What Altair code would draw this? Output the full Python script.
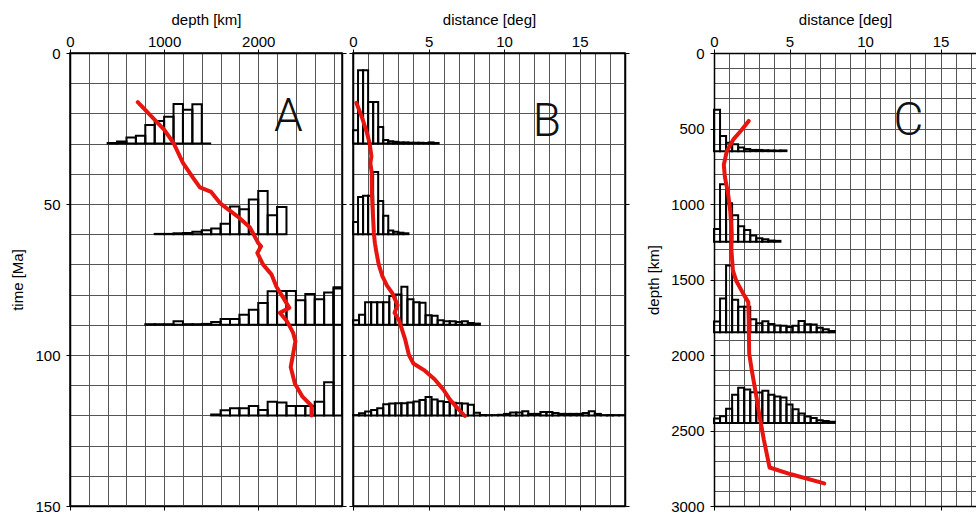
import altair as alt
import pandas as pd

# ---------------- Panel A : depth distribution [km] at four times [Ma]
a_base_time = [30, 60, 90, 120]
a_start_depth = [400, 900, 800, 1500]
a_bin_depth = 100
a_max_depth = 2890
a_counts_30 = [0.2, 0.7, 2.0, 2.6, 6.2, 7.5, 8.9, 13.1, 11.2, 13.0, 0.0]
a_counts_60 = [0.1, 0.1, 0.3, 0.4, 0.8, 1.3, 1.9, 3.5, 9.2, 8.3, 11.5, 14.3, 6.3, 9.0]
a_counts_90 = [0.2, 0.2, 0.2, 1.2, 0.2, 0.2, 0.3, 0.9, 1.9, 1.9, 3.3, 5.0, 7.2, 11.1,
               11.2, 11.2, 8.1, 10.2, 8.5, 10.7, 12.4]
a_counts_120 = [0.3, 1.7, 2.4, 2.4, 3.1, 1.8, 4.5, 4.3, 3.1, 3.1, 3.1, 4.5, 11.0, 42.0]
a_path_depth = [720, 1000, 1100, 1200, 1310, 1380, 1500, 1600, 1800, 1910, 2000, 2030, 1990,
                2050, 2140, 2195, 2265, 2330, 2230, 2305, 2370, 2395, 2370, 2345, 2390, 2470,
                2566, 2566]
a_path_time = [16.3, 25.4, 29.8, 36.4, 41.4, 44.5, 46.0, 49.9, 54.6, 57.7, 62.9, 64.0, 66.2,
               70.0, 73.3, 77.5, 81.0, 84.4, 86.0, 88.8, 92.6, 95.4, 99.8, 104.0, 109.5, 113.8,
               116.8, 120.0]

# ---------------- Panel B : distance distribution [deg] at four times [Ma]
b_base_time = [30, 60, 90, 120]
b_bin_deg = [1 / 3, 1 / 3, 0.4, 0.4]
b_counts_30 = [4.4, 24.3, 24.3, 13.8, 13.8, 5.5, 1.2, 0.8, 0.6, 0.4, 0.4, 0.3, 0.3, 0.3, 0.2,
               0.4, 0.2]
b_counts_60 = [4.0, 12.3, 12.7, 12.7, 20.6, 11.0, 6.1, 1.2, 0.8, 0.5, 0.3]
b_counts_90 = [1.5, 3.3, 7.5, 7.5, 7.5, 7.5, 9.5, 10.0, 12.6, 8.5, 7.5, 7.3, 3.2, 3.0, 1.5,
               1.2, 1.2, 0.9, 1.2, 0.6, 0.4]
b_counts_120 = [0.1, 0.7, 1.3, 1.8, 2.4, 3.7, 3.9, 4.0, 4.0, 4.3, 4.6, 5.1, 6.1, 5.3, 4.7,
                4.4, 4.2, 4.0, 3.9, 3.5, 0.9, 0.1, 0.1, 0.1, 0.2, 0.5, 1.0, 1.0, 1.4, 0.5,
                0.5, 1.1, 1.1, 0.8, 0.5, 0.5, 0.5, 0.5, 0.8, 1.4, 0.5, 0.1, 0.1, 0.1, 0.1]
b_path_dist = [0.22, 0.57, 0.9, 1.1, 1.22, 1.15, 1.24, 1.25, 1.3, 1.38, 1.45, 1.55, 1.7, 1.95,
               2.25, 2.6, 2.95, 2.75, 3.05, 3.45, 3.7, 4.0, 4.7, 5.4, 6.0, 6.4, 6.9, 7.4]
b_path_time = [16.5, 21.0, 26.0, 30.0, 34.2, 36.4, 39.7, 46.3, 51.8, 59.5, 63.0, 66.0, 70.0,
               74.0, 77.0, 79.5, 83.5, 86.0, 88.5, 94.8, 100.0, 102.8, 105.0, 108.0, 111.6,
               114.7, 117.5, 120.2]

# ---------------- Panel C : distance distribution [deg] at four depths [km]
c_base_depth = [650, 1250, 1850, 2450]
c_bin_deg = 0.4
c_counts_650 = [275, 100, 55, 45, 25, 15, 8, 8, 6, 5, 4, 5]
c_counts_1250 = [85, 380, 255, 175, 103, 78, 42, 23, 16, 8, 6]
c_counts_1850 = [72, 225, 442, 216, 169, 169, 87, 61, 73, 55, 45, 43, 36, 43, 75, 54, 52, 31,
                 20, 9]
c_counts_2450 = [30, 45, 94, 187, 233, 222, 204, 202, 214, 186, 175, 168, 123, 90, 62, 43, 32,
                 18, 13, 8]
c_path_dist = [2.3, 1.8, 1.3, 0.85, 0.65, 0.72, 0.93, 1.08, 1.17, 1.15, 1.25, 1.48, 2.0, 2.27,
               2.3, 2.33, 2.5, 2.78, 3.0, 3.3, 3.68, 5.1, 7.3]
c_path_depth = [450, 513, 570, 650, 740, 820, 930, 1050, 1200, 1300, 1440, 1510, 1605, 1650,
                1770, 1990, 2100, 2260, 2395, 2560, 2745, 2790, 2850]

FONT = "Liberation Sans"
RED = "#e8140f"
PANEL_W = 272
PANEL_H = 453
GAP = 11
C_XMAX = 17.35          # panel C is cut by the right edge of the figure
C_W = 262


def hist_table(bases, starts, widths, counts_list, xmax):
    rows = []
    for base, start, width, counts in zip(bases, starts, widths, counts_list):
        for i, c in enumerate(counts):
            x0 = start + i * width
            x1 = min(x0 + width, xmax)
            if x0 >= xmax:
                continue
            rows.append({"x0": x0, "x1": x1, "y": base, "y2": base - c})
    return pd.DataFrame(rows)


def path_table(xs, ys):
    return pd.DataFrame({"x": xs, "y": ys, "i": list(range(len(xs)))})


def panel(hist, path, letter, lx, ly, xdom, ydom, xstep, xlabstep, ystep, ylabstep,
          xtitle, ytitle, ylabels, width, open_right=False):
    xs = alt.Scale(domain=xdom, nice=False, zero=False)
    ys = alt.Scale(domain=ydom, nice=False, zero=False, reverse=True)
    xgrid = list(range(int(xdom[0]), int(xdom[1]) + 1, xstep))
    ygrid = list(range(int(ydom[0]), int(ydom[1]) + 1, ystep))
    xlab = [v for v in xgrid if v % xlabstep == 0]
    ylab = [v for v in ygrid if v % ylabstep == 0]
    xaxis = alt.Axis(
        orient="top", values=xgrid, format="d", title=xtitle, grid=True,
        labelExpr=f"datum.value % {xlabstep} == 0 ? datum.label : ''",
        tickOpacity={"condition": {"test": f"datum.value % {xlabstep} == 0", "value": 1},
                     "value": 0},
        labelFlush=False, labelOverlap=False, labelPadding=0, titlePadding=7,
    )
    yaxis = alt.Axis(
        orient="left", values=ygrid, format="d", title=ytitle, grid=True,
        labels=ylabels,
        labelExpr=f"datum.value % {ylabstep} == 0 ? datum.label : ''",
        tickOpacity={"condition": {"test": f"datum.value % {ylabstep} == 0", "value": 1},
                     "value": 0},
        labelFlush=False, labelOverlap=False, labelPadding=6, titlePadding=9,
    )
    bars = alt.Chart(hist).mark_rect(
        fillOpacity=0, stroke="black", strokeWidth=2
    ).encode(
        x=alt.X("x0:Q", scale=xs, axis=xaxis),
        x2="x1:Q",
        y=alt.Y("y:Q", scale=ys, axis=yaxis),
        y2="y2:Q",
    )
    if open_right:
        raxis = alt.Axis(orient="right", values=ylab, labels=False, title=None, grid=False,
                         ticks=False, domain=False)
    else:
        raxis = alt.Axis(orient="right", values=ylab, labels=False, title=None, grid=False)
    line = alt.Chart(path).mark_line(
        color=RED, strokeWidth=4, strokeJoin="round", strokeCap="round"
    ).encode(
        x=alt.X("x:Q", scale=xs, axis=alt.Axis(orient="bottom", values=xlab, labels=False,
                                               title=None, grid=False)),
        y=alt.Y("y:Q", scale=ys, axis=raxis),
        order=alt.Order("i:Q"),
    )
    text = alt.Chart(pd.DataFrame({"t": [letter]})).mark_text(
        font="Roboto", fontWeight=300, fontSize=46, color="#111",
        align="center", baseline="alphabetic",
    ).encode(
        x=alt.X(datum=lx, scale=xs, axis=None),
        y=alt.Y(datum=ly, scale=ys, axis=None),
        text="t:N",
    )
    out = alt.layer(bars, line, text).resolve_axis(
        x="independent", y="independent"
    ).properties(width=width, height=PANEL_H)
    if open_right:
        out = out.properties(view=alt.ViewConfig(strokeOpacity=0))
    return out


hist_a = hist_table(a_base_time, a_start_depth, [a_bin_depth] * 4,
                    [a_counts_30, a_counts_60, a_counts_90, a_counts_120], a_max_depth)
hist_b = hist_table(b_base_time, [0, 0, 0, 0], b_bin_deg,
                    [b_counts_30, b_counts_60, b_counts_90, b_counts_120], 18)
hist_c = hist_table(c_base_depth, [0, 0, 0, 0], [c_bin_deg] * 4,
                    [c_counts_650, c_counts_1250, c_counts_1850, c_counts_2450], C_XMAX)

pa = panel(hist_a, path_table(a_path_depth, a_path_time), "A", 2320, 25.9,
           [0, a_max_depth], [0, 150], 200, 1000, 10, 50, "depth [km]", "time [Ma]", True,
           PANEL_W)
pb = panel(hist_b, path_table(b_path_dist, b_path_time), "B", 12.83, 27.6,
           [0, 18], [0, 150], 1, 5, 10, 50, "distance [deg]", None, False, PANEL_W)
pc = panel(hist_c, path_table(c_path_dist, c_path_depth), "C", 12.87, 545,
           [0, C_XMAX], [0, 3000], 1, 5, 100, 500, "distance [deg]", "depth [km]", True,
           C_W, open_right=True)

# empty, invisible spacer that leaves room for panel C's left axis
spacer = alt.Chart(pd.DataFrame({"s": [0]})).mark_point(opacity=0).encode(
    x=alt.X("s:Q", axis=None), y=alt.Y("s:Q", axis=None)
).properties(width=89 - 2 * GAP, height=PANEL_H, view=alt.ViewConfig(strokeOpacity=0))

chart = alt.hconcat(pa, pb, spacer, pc, spacing=GAP, bounds="flush").properties(
    padding={"left": 10, "top": 11, "right": 0, "bottom": 0}
).configure_view(
    stroke="black", strokeWidth=1.5
).configure_axis(
    labelFont=FONT, labelFontSize=15, labelColor="black",
    titleFont=FONT, titleFontSize=15, titleFontWeight="normal", titleColor="black",
    domainColor="black", domainWidth=1.5, tickColor="black", tickSize=4, tickWidth=1,
    gridColor="#555", gridWidth=1, gridOpacity=1,
)

chart.save("out.html", embed_options={"renderer": "svg", "actions": False})
